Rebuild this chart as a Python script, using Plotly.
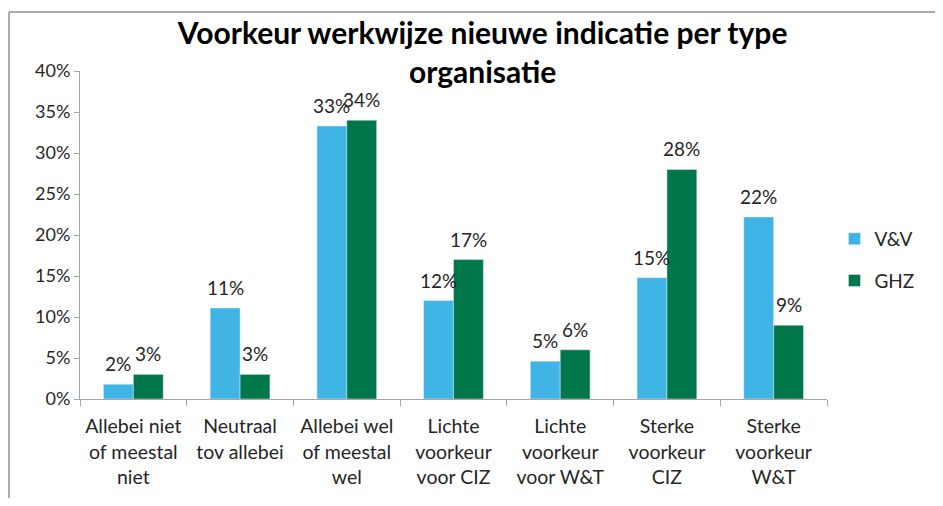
import plotly.graph_objects as go

categories = [
    "Allebei niet<br>of meestal<br>niet",
    "Neutraal<br>tov allebei",
    "Allebei wel<br>of meestal<br>wel",
    "Lichte<br>voorkeur<br>voor CIZ",
    "Lichte<br>voorkeur<br>voor W&T",
    "Sterke<br>voorkeur<br>CIZ",
    "Sterke<br>voorkeur<br>W&T",
]
vv = [0.018, 0.111, 0.333, 0.12, 0.046, 0.148, 0.222]
ghz = [0.03, 0.03, 0.34, 0.17, 0.06, 0.28, 0.09]
ytick_vals = [0, 0.05, 0.10, 0.15, 0.20, 0.25, 0.30, 0.35, 0.40]

font_family = "Lato, 'Open Sans', sans-serif"
text_color = "#262626"

fig = go.Figure(
    data=[
        go.Bar(name="V&V", x=categories, y=vv, legendgroup="vv",
               marker=dict(color="#41B4E6")),
        go.Bar(name="GHZ", x=categories, y=ghz, legendgroup="ghz",
               marker=dict(color="#00774A")),
    ]
)

# data labels above each bar (offset half a bar width left/right)
for vals, shift in [(vv, -15), (ghz, 15)]:
    for cat, v in zip(categories, vals):
        fig.add_annotation(
            x=cat, y=v, text=f"{v:.0%}", showarrow=False,
            xshift=shift, yshift=7, yanchor="bottom",
            font=dict(size=19, color=text_color),
        )

fig.update_layout(
    width=927,
    height=490,
    paper_bgcolor="white",
    plot_bgcolor="white",
    font=dict(family=font_family, color=text_color, size=18),
    title=dict(
        text="<b>Voorkeur werkwijze nieuwe indicatie per type<br>organisatie</b>",
        x=0.512,
        xanchor="center",
        y=0.927,
        yanchor="middle",
        font=dict(size=30, color="black"),
    ),
    margin=dict(l=72, r=108, t=63, b=99),
    bargap=0.44,
    bargroupgap=0,
    showlegend=True,
    legend=dict(
        x=1.01,
        y=0.424,
        yanchor="middle",
        xanchor="left",
        font=dict(size=19, color=text_color),
        itemwidth=30,
        tracegroupgap=14,
    ),
    yaxis=dict(
        range=[0, 0.40],
        tickvals=ytick_vals,
        tickformat=".0%",
        showgrid=False,
        showline=True,
        linecolor="#A6A6A6",
        ticks="outside",
        ticklen=5,
        tickcolor="#A6A6A6",
        tickfont=dict(size=18, color=text_color),
        zeroline=False,
        automargin=False,
    ),
    xaxis=dict(
        showline=True,
        linecolor="#A6A6A6",
        ticks="outside",
        tickson="boundaries",
        ticklen=6,
        tickcolor="#A6A6A6",
        tickfont=dict(size=19.5, color=text_color),
        tickangle=0,
        ticklabelstandoff=10,
        automargin=False,
    ),
    shapes=[
        dict(type="line", xref="paper", yref="paper", x0=-0.095, x1=1.2,
             y0=1.18, y1=1.18, line=dict(color="#8C8C8C", width=1.5)),
        dict(type="line", xref="paper", yref="paper", x0=-0.095, x1=-0.095,
             y0=1.18, y1=-0.4, line=dict(color="#8C8C8C", width=1.5)),
    ],
)

fig.write_html("out.html")
